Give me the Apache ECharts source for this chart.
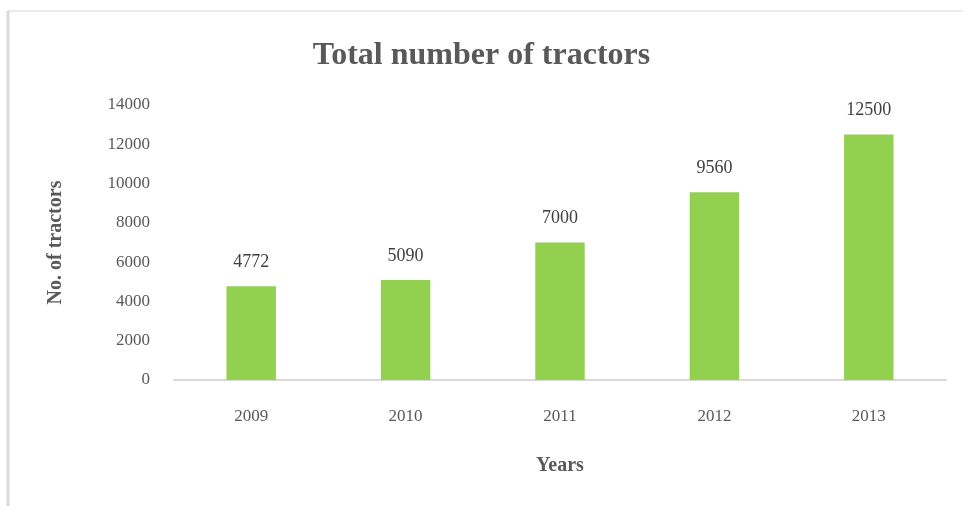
<!DOCTYPE html>
<html>
<head>
<meta charset="utf-8">
<script src="https://cdn.jsdelivr.net/npm/echarts@6/dist/echarts.min.js"></script>
<style>
  html, body { margin: 0; padding: 0; background: #fff; }
  #chart { width: 963px; height: 506px; }
</style>
</head>
<body>
<div id="chart"></div>
<script>
// data
var years = ["2009", "2010", "2011", "2012", "2013"];
var tractors = [4772, 5090, 7000, 9560, 12500];
var yTicks = [0, 2000, 4000, 6000, 8000, 10000, 12000, 14000];

var serif = "'Liberation Serif', 'DejaVu Serif', serif";
var chart = echarts.init(document.getElementById("chart"));

var option = {
  backgroundColor: "#fff",
  animation: false,
  title: {
    text: "Total number of tractors",
    left: "center",
    top: 35,
    textStyle: { fontFamily: serif, fontSize: 32, fontWeight: "bold", color: "#595959" }
  },
  // frame lines of the original chart area
  graphic: [
    { type: "line", shape: { x1: 8, y1: 11, x2: 963, y2: 11 }, style: { stroke: "#d9d9d9", lineWidth: 1 } },
    { type: "line", shape: { x1: 8, y1: 11, x2: 8, y2: 506 }, style: { stroke: "#d9d9d9", lineWidth: 3 } }
  ],
  grid: { left: 174, right: 17, top: 105, bottom: 126 },
  xAxis: {
    type: "category",
    data: years,
    name: "Years",
    nameLocation: "middle",
    nameGap: 76,
    nameTextStyle: { fontFamily: serif, fontSize: 20, fontWeight: "bold", color: "#595959" },
    axisLine: { lineStyle: { color: "#d9d9d9", width: 2 } },
    axisTick: { show: false },
    axisLabel: { fontFamily: serif, fontSize: 17, color: "#595959", margin: 28 }
  },
  yAxis: {
    type: "value",
    min: yTicks[0],
    max: yTicks[yTicks.length - 1],
    interval: 2000,
    name: "No. of tractors",
    nameLocation: "middle",
    nameGap: 108,
    nameTextStyle: { fontFamily: serif, fontSize: 20, fontWeight: "bold", color: "#595959" },
    axisLine: { show: false },
    axisTick: { show: false },
    splitLine: { show: false },
    axisLabel: {
      fontFamily: serif, fontSize: 17, color: "#595959", margin: 24,
      formatter: function (v) { return String(v); }
    }
  },
  series: [{
    type: "bar",
    data: tractors,
    barWidth: "32%",
    itemStyle: { color: "#92D050" },
    label: {
      show: true,
      position: "top",
      distance: 15,
      fontFamily: serif,
      fontSize: 18,
      color: "#404040"
    }
  }]
};

chart.setOption(option);
</script>
</body>
</html>
